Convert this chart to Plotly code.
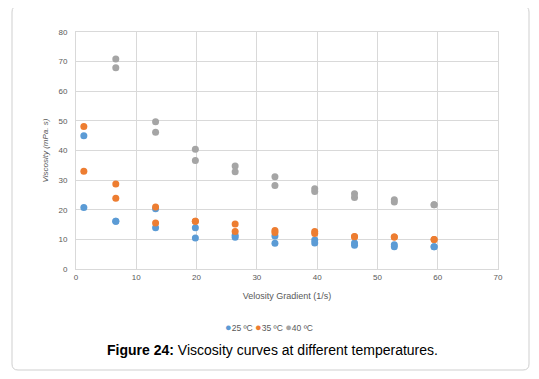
import plotly.graph_objects as go

# Velocity gradient (1/s), each measured twice
x_25 = [1.3, 1.3, 6.6, 6.6, 13.2, 13.2, 19.8, 19.8, 26.4, 26.4, 33.0, 33.0, 39.6, 39.6, 46.2, 46.2, 52.8, 52.8, 59.4, 59.4]
y_25 = [45.0, 20.8, 16.1, 16.1, 20.3, 13.9, 13.9, 10.5, 11.4, 10.7, 11.1, 8.7, 9.8, 8.8, 8.8, 8.0, 8.2, 7.5, 7.5, 7.5]

x_35 = [1.3, 1.3, 6.6, 6.6, 13.2, 13.2, 19.8, 19.8, 26.4, 26.4, 33.0, 33.0, 39.6, 39.6, 46.2, 46.2, 52.8, 52.8, 59.4, 59.4]
y_35 = [48.1, 33.0, 28.7, 23.9, 20.9, 15.5, 16.1, 16.1, 15.2, 12.7, 13.0, 12.3, 12.7, 12.0, 11.0, 10.9, 10.8, 10.8, 10.0, 10.0]

x_40 = [6.6, 6.6, 13.2, 13.2, 19.8, 19.8, 26.4, 26.4, 33.0, 33.0, 39.6, 39.6, 46.2, 46.2, 52.8, 52.8, 59.4, 59.4]
y_40 = [70.9, 67.9, 49.7, 46.2, 40.4, 36.6, 34.8, 32.8, 31.1, 28.2, 27.1, 26.2, 25.4, 24.1, 23.4, 22.6, 21.7, 21.7]

series_names = ["25 ºC", "35 ºC", "40 ºC"]
colors = ["#5B9BD5", "#ED7D31", "#A5A5A5"]

x_ticks = [0, 10, 20, 30, 40, 50, 60, 70]
y_ticks = [0, 10, 20, 30, 40, 50, 60, 70, 80]

fig = go.Figure()
for xs, ys, name, c in zip([x_25, x_35, x_40], [y_25, y_35, y_40], series_names, colors):
    fig.add_trace(go.Scatter(x=xs, y=ys, mode="markers", name=name,
                             marker=dict(color=c, size=7, line=dict(width=0))))

OFF = 8  # page body margin
W, H = 539 - OFF, 379 - OFF
L, R, T, B = 76 - OFF, 41, 32 - OFF, 110
pw, ph = W - L - R, H - T - B

def px(xp):
    return (xp - OFF - L) / pw

def py(yp):
    return (H - B - (yp - OFF)) / ph

# rounded frame
x0, x1, y0, y1 = 12, 529, 6, 370
r = 6
path = (f"M {px(x0 + r)},{py(y0)} L {px(x1 - r)},{py(y0)} "
        f"Q {px(x1)},{py(y0)} {px(x1)},{py(y0 + r)} "
        f"L {px(x1)},{py(y1 - r)} Q {px(x1)},{py(y1)} {px(x1 - r)},{py(y1)} "
        f"L {px(x0 + r)},{py(y1)} Q {px(x0)},{py(y1)} {px(x0)},{py(y1 - r)} "
        f"L {px(x0)},{py(y0 + r)} Q {px(x0)},{py(y0)} {px(x0 + r)},{py(y0)} Z")
fig.add_shape(type="path", path=path, xref="paper", yref="paper",
              line=dict(color="#CFCFCF", width=1), layer="below")

tickfont = dict(family="Liberation Sans, Arial, sans-serif", size=8, color="#595959")

fig.update_layout(
    width=W, height=H,
    margin=dict(l=L, r=R, t=T, b=B),
    paper_bgcolor="white", plot_bgcolor="white",
    showlegend=False,
    xaxis=dict(range=[0, 70], tickvals=x_ticks, showgrid=True, gridcolor="#D9D9D9",
               gridwidth=1, zeroline=False, showline=True, linecolor="#D9D9D9", mirror=True,
               ticks="", tickfont=tickfont,
               title=dict(text="Velosity Gradient (1/s)", standoff=12,
                          font=dict(family="Liberation Sans, Arial, sans-serif", size=9, color="#595959"))),
    yaxis=dict(range=[0, 80], tickvals=y_ticks, showgrid=True, gridcolor="#D9D9D9",
               gridwidth=1, zeroline=False, showline=True, linecolor="#D9D9D9", mirror=True,
               ticks="", tickfont=tickfont, ticklabelstandoff=6,
               title=dict(text="<i>Viscosity (mPa. s)</i>", standoff=8,
                          font=dict(family="Liberation Sans, Arial, sans-serif", size=8, color="#595959"))),
)

legend_text = "".join(f"<span style='color:{c};font-size:11px'>●</span>{n} " for c, n in zip(colors, series_names))
fig.add_annotation(text=legend_text.strip(), xref="paper", yref="paper", x=px(269), y=py(327),
                   showarrow=False, xanchor="center", yanchor="middle",
                   font=dict(family="Liberation Sans, Arial, sans-serif", size=8.5, color="#595959"))

fig.add_annotation(text="<b>Figure 24:</b> Viscosity curves at different temperatures.",
                   xref="paper", yref="paper", x=px(272), y=py(350), showarrow=False,
                   xanchor="center", yanchor="middle",
                   font=dict(family="Liberation Sans, Arial, sans-serif", size=14, color="black"))

fig.write_html("out.html")
